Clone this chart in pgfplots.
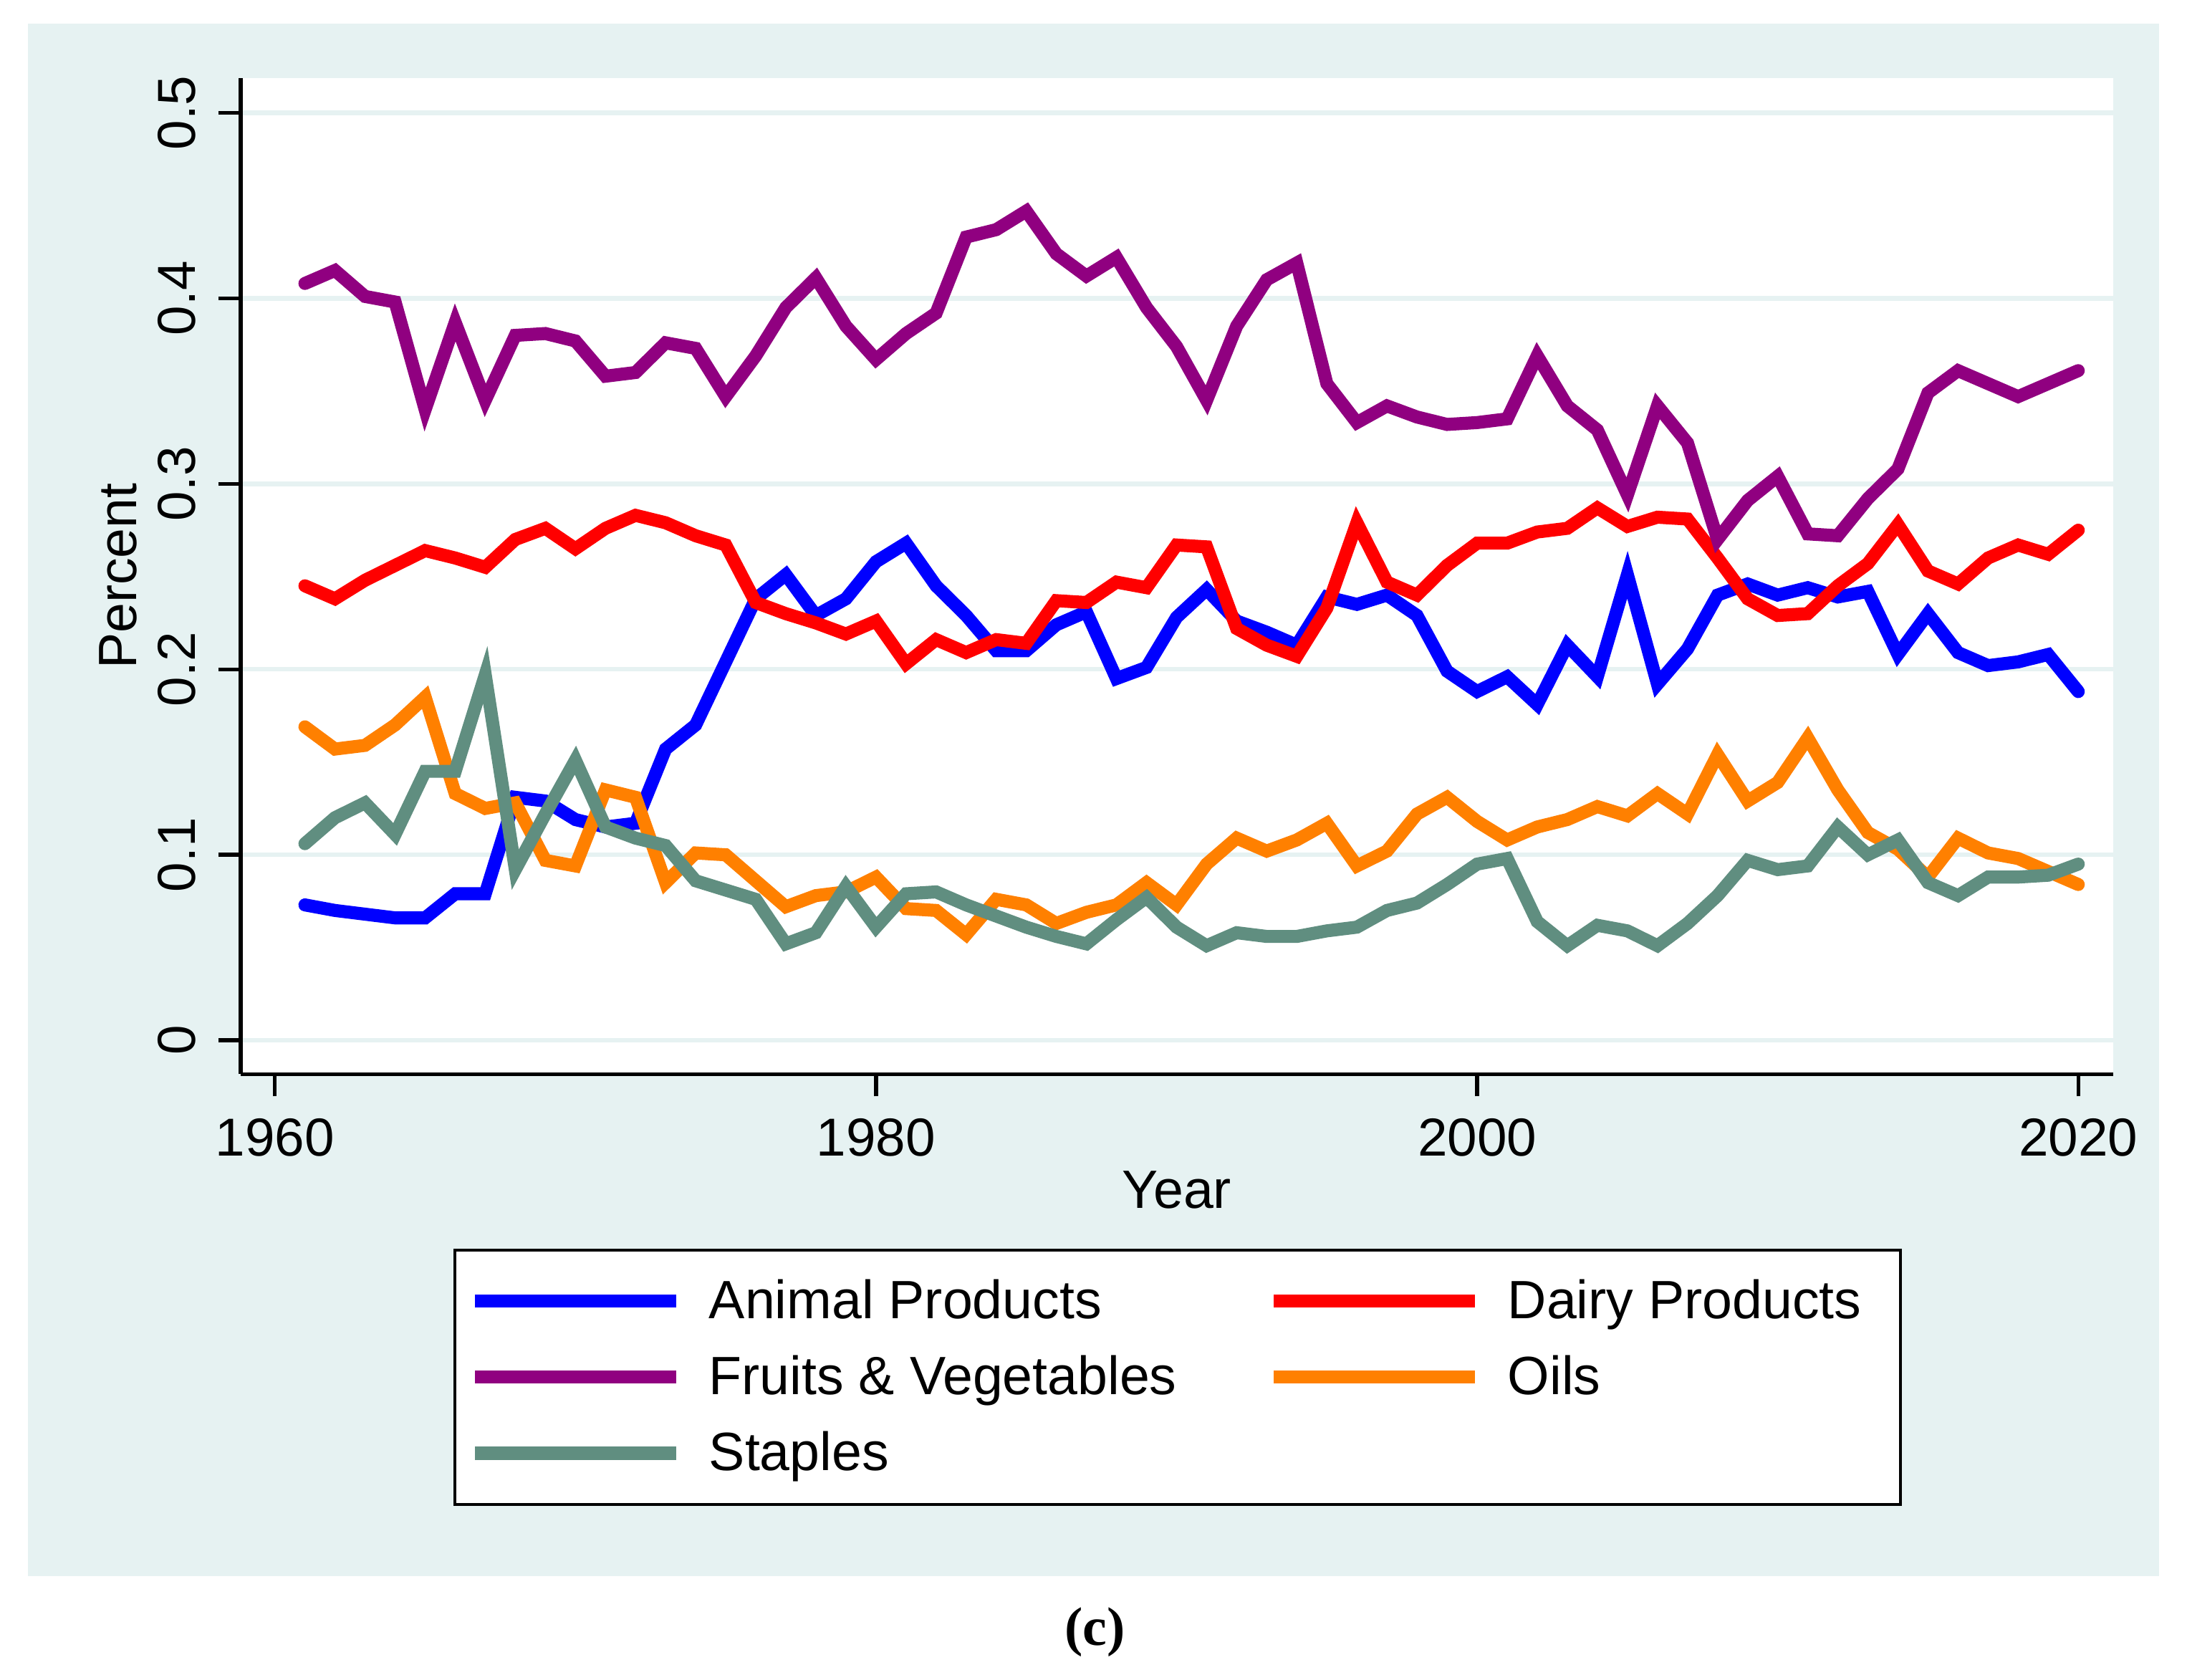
\documentclass[border=0pt]{standalone}
\usepackage{pgfplots}
\pgfplotsset{compat=1.18}
\usepackage{pgfplotstable}
\usepackage{fontspec}
\setmainfont{Liberation Sans}
\newfontfamily\seriffont{Liberation Serif}
\definecolor{bgc}{RGB}{230,242,242}
\definecolor{cAnimal}{RGB}{0,0,255}
\definecolor{cDairy}{RGB}{255,0,0}
\definecolor{cFruit}{RGB}{144,0,128}
\definecolor{cOil}{RGB}{255,128,0}
\definecolor{cStaple}{RGB}{96,142,128}
\newcommand\ls{\vrule width 0pt height 9pt depth 1pt}
\pgfplotstableread{
year animal dairy fruit oil staple
1961 .073 .245 .408 .169 .106
1962 .070 .238 .415 .157 .120
1963 .068 .248 .401 .159 .128
1964 .066 .256 .398 .170 .111
1965 .066 .264 .340 .185 .145
1966 .079 .260 .387 .133 .145
1967 .079 .255 .345 .125 .197
1968 .131 .270 .380 .128 .092
1969 .129 .276 .381 .097 .122
1970 .119 .265 .377 .094 .151
1971 .115 .276 .358 .135 .115
1972 .117 .283 .360 .131 .109
1973 .157 .279 .376 .085 .105
1974 .170 .272 .373 .101 .086
1975 .204 .267 .347 .100 .081
1976 .238 .236 .369 .086 .076
1977 .251 .230 .395 .072 .052
1978 .229 .225 .411 .078 .058
1979 .238 .219 .385 .080 .083
1980 .258 .226 .367 .088 .061
1981 .268 .203 .381 .071 .079
1982 .245 .216 .392 .070 .080
1983 .229 .209 .433 .057 .073
1984 .210 .216 .437 .076 .067
1985 .210 .214 .447 .073 .061
1986 .224 .237 .424 .063 .056
1987 .231 .236 .412 .069 .052
1988 .195 .247 .422 .073 .065
1989 .201 .244 .395 .085 .077
1990 .228 .267 .374 .073 .061
1991 .243 .266 .345 .095 .051
1992 .226 .222 .385 .109 .058
1993 .220 .213 .410 .102 .056
1994 .213 .207 .419 .108 .056
1995 .239 .233 .354 .117 .059
1996 .235 .279 .333 .094 .061
1997 .240 .247 .342 .102 .070
1998 .229 .240 .336 .122 .074
1999 .199 .256 .332 .131 .084
2000 .188 .268 .333 .118 .095
2001 .196 .268 .335 .108 .098
2002 .181 .274 .369 .115 .064
2003 .213 .276 .342 .119 .051
2004 .196 .287 .329 .126 .062
2005 .251 .277 .294 .121 .059
2006 .192 .282 .342 .133 .051
2007 .211 .281 .322 .122 .063
2008 .240 .260 .270 .154 .078
2009 .246 .238 .291 .129 .097
2010 .240 .229 .304 .139 .092
2011 .244 .230 .273 .163 .094
2012 .239 .245 .272 .135 .115
2013 .242 .257 .292 .112 .100
2014 .208 .278 .308 .103 .108
2015 .230 .253 .349 .088 .085
2016 .209 .246 .361 .109 .078
2017 .202 .260 .354 .101 .088
2018 .204 .267 .347 .098 .088
2019 .208 .262 .354 .091 .089
2020 .188 .275 .361 .084 .095
}\datatable
\begin{document}
\begin{tikzpicture}
\useasboundingbox (0,0) rectangle (470.4pt,361.2pt);
\fill[white] (0,0) rectangle (470.4pt,361.2pt);
\fill[bgc] (6pt,22.2pt) rectangle (464.4pt,356.1pt);
\begin{axis}[
  at={(51.75pt,130.2pt)}, anchor=south west,
  scale only axis, width=402.75pt, height=214.2pt,
  xmin=1958.86, xmax=2021.16, ymin=-0.0182, ymax=0.5187,
  axis x line*=bottom, axis y line*=left,
  axis line style={line width=0.83pt, -},
  axis background/.style={fill=white},
  xtick={1960,1980,2000,2020}, ytick={0,0.1,0.2,0.3,0.4,0.5},
  tick align=outside, major tick length=4.8pt,
  every tick/.style={black, line width=0.83pt},
  ymajorgrids, grid style={bgc, line width=1pt},
  /pgf/number format/assume math mode=true,
  x tick label style={/pgf/number format/1000 sep={}},
  tick label style={font=\fontsize{11.5}{13}\selectfont, inner sep=0pt},
  yticklabel style={rotate=90, anchor=south},
  xticklabel style={anchor=north},
  xticklabel shift=4.5pt, yticklabel shift=4.65pt,
  xlabel={Year}, ylabel={Percent},
  every axis x label/.style={at={(axis description cs:0.5,-0.1162)}, anchor=center, font=\fontsize{11.6}{13}\selectfont},
  every axis y label/.style={at={(axis description cs:-0.0652,0.5)}, anchor=center, rotate=90, font=\fontsize{11.6}{13}\selectfont},
  legend columns=2,
  legend cell align=left,
  legend style={
    at={(axis description cs:0.1136,-0.1751)}, anchor=north west,
    draw=black, line width=0.6pt, fill=white,
    inner xsep=3pt, inner ysep=5.7pt,
    font=\fontsize{11.6}{13}\selectfont,
    nodes={inner sep=0pt},
    row sep=5.9pt, column sep=0pt,
    /tikz/every odd column/.append style={column sep=5.7pt},
    /tikz/every even column/.append style={column sep=19.5pt},
  },
  legend image code/.code={\draw[#1, line cap=butt] (0pt,0pt) -- (43.2pt,0pt);},
  every axis plot/.append style={line width=2.8pt, line cap=round, line join=miter},
]
\addplot[cAnimal] table[x=year, y=animal] {\datatable};
\addlegendentry{\ls Animal Products}
\addplot[cDairy] table[x=year, y=dairy] {\datatable};
\addlegendentry{\ls Dairy Products\rule{5.4pt}{0pt}}
\addplot[cFruit] table[x=year, y=fruit] {\datatable};
\addlegendentry{\ls Fruits \& Vegetables}
\addplot[cOil] table[x=year, y=oil] {\datatable};
\addlegendentry{\ls Oils}
\addplot[cStaple] table[x=year, y=staple] {\datatable};
\addlegendentry{\ls Staples}
\end{axis}
\node[font=\seriffont\bfseries\fontsize{11.7}{14}\selectfont] at (235.5pt,10.2pt) {(c)};
\end{tikzpicture}
\end{document}
